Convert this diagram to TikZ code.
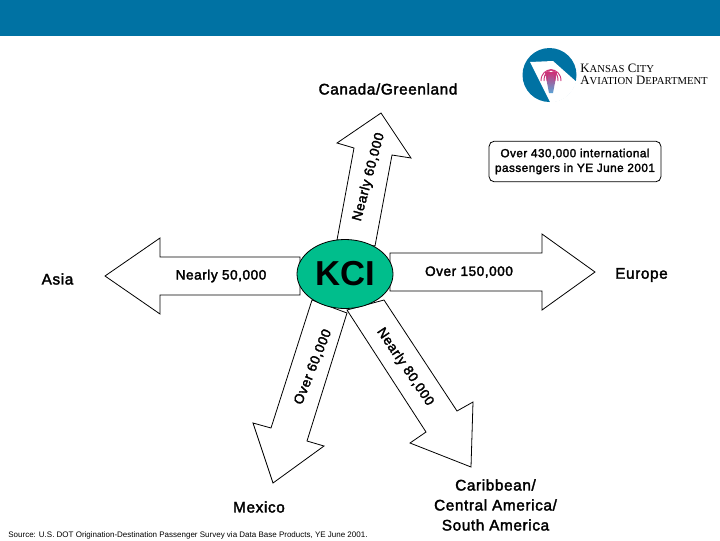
\documentclass[tikz,border=0pt]{standalone}
\usepackage{fontspec}
\setmainfont{Liberation Sans}
\newfontfamily\labelfont[FakeBold=2.2, LetterSpace=4]{Liberation Sans}
\newfontfamily\logofont{Liberation Serif}
\usetikzlibrary{positioning, shapes.geometric}
\definecolor{bannerblue}{RGB}{0,114,163}
\definecolor{kcigreen}{RGB}{0,190,140}
\definecolor{fountainpink}{RGB}{205,50,120}
\definecolor{fountainblue}{RGB}{90,165,215}
\tikzset{every picture/.style={line width=0.6pt}}

\begin{document}
\begin{tikzpicture}[x=0.75pt, y=-0.75pt,
    bigarrow/.style={draw, fill=white, line join=miter},
    place/.style={font=\labelfont\fontsize{11.5}{15}\selectfont, inner sep=0pt, align=center},
    flow/.style={font=\labelfont\fontsize{10.2}{11}\selectfont, inner sep=0pt}]
        \useasboundingbox (0, 0) rectangle (720, 540);
        \fill[bannerblue] (0, 0) rectangle (720, 36);
        % logo
        \fill[bannerblue] (549.5, 75) circle (27);
        \begin{scope}
            \clip (549.5, 75) circle (27.5);
            \fill[white] (530, 62) -- (553, 61) -- (580, 85) -- (580, 110) -- (554, 110) -- cycle;
        \end{scope}
        \shade[top color=fountainpink, bottom color=fountainblue] (545, 72) -- (557, 72) -- (553, 93) -- (549, 93) -- cycle;
        \foreach \w in {4, 7, 10} {
            \draw[fountainpink, line width=0.7pt] (551-\w, 81) .. controls (551-\w, 66) and (551+\w, 66) .. (551+\w, 81);
        }
        \node[anchor=west, inner sep=0pt, align=left, font=\logofont\fontsize{9.6}{9.4}\selectfont] (logotext) at (580, 74.5)
            {K{\fontsize{8}{9.4}\selectfont ANSAS} C{\fontsize{8}{9.4}\selectfont ITY}\\
             A{\fontsize{8}{9.4}\selectfont VIATION} D{\fontsize{8}{9.4}\selectfont EPARTMENT}};
        % arrows
        \draw[bigarrow] (337, 240) -- (354, 148) -- (337, 143) -- (381, 113) -- (411, 158) -- (392, 155) -- (375, 246) -- cycle;
        \draw[bigarrow] (300, 257) -- (160, 257) -- (160, 238) -- (105, 276) -- (160, 314) -- (160, 295) -- (300, 295) -- cycle;
        \draw[bigarrow] (390, 253) -- (542, 253) -- (542, 234) -- (595, 272) -- (542, 310) -- (542, 291) -- (390, 291) -- cycle;
        \draw[bigarrow] (312, 300) -- (271, 428) -- (253, 423) -- (273, 483) -- (324, 446) -- (307, 441) -- (347, 313) -- cycle;
        \draw[bigarrow] (347, 310) -- (426, 432) -- (410, 443) -- (471, 467) -- (473, 402) -- (457, 411) -- (384, 300) -- cycle;
        \node[ellipse, draw, fill=kcigreen, minimum width=72pt, minimum height=51.75pt, inner sep=0pt,
            font=\fontsize{26}{26}\selectfont\bfseries] (kci) at (345, 274) {KCI};
        % labels
        \node[place] (canada) at (388, 89) {Canada/Greenland};
        \node[place] (asia) at (57.5, 279) {Asia};
        \node[place] (europe) at (641.5, 275) {Europe};
        \node[place] (mexico) at (259, 507) {Mexico};
        \node[place] (caribbean) at (495.5, 505) {Caribbean/\\Central America/\\South America};
        \node[flow] (west) at (221, 276) {Nearly 50,000};
        \node[flow] (east) at (469, 272) {Over 150,000};
        \node[flow, rotate=75] (north) at (369, 177) {Nearly 60,000};
        \node[flow, rotate=68] (southwest) at (313, 367) {Over 60,000};
        \node[flow, rotate=-56] (southeast) at (405, 367) {Nearly 80,000};
        \node[draw, rounded corners=4pt, minimum width=129pt, minimum height=30.5pt, align=center, inner sep=0pt,
            font=\labelfont\fontsize{8.8}{11}\selectfont] (intl) at (575, 161.5) {Over 430,000 international\\passengers in YE June 2001};
        \node[anchor=west, inner sep=0pt, font=\fontsize{6}{6}\selectfont] (source) at (8, 535)
            {Source: U.S. DOT Origination-Destination Passenger Survey via Data Base Products, YE June 2001.};
    \end{tikzpicture}
\end{document}
